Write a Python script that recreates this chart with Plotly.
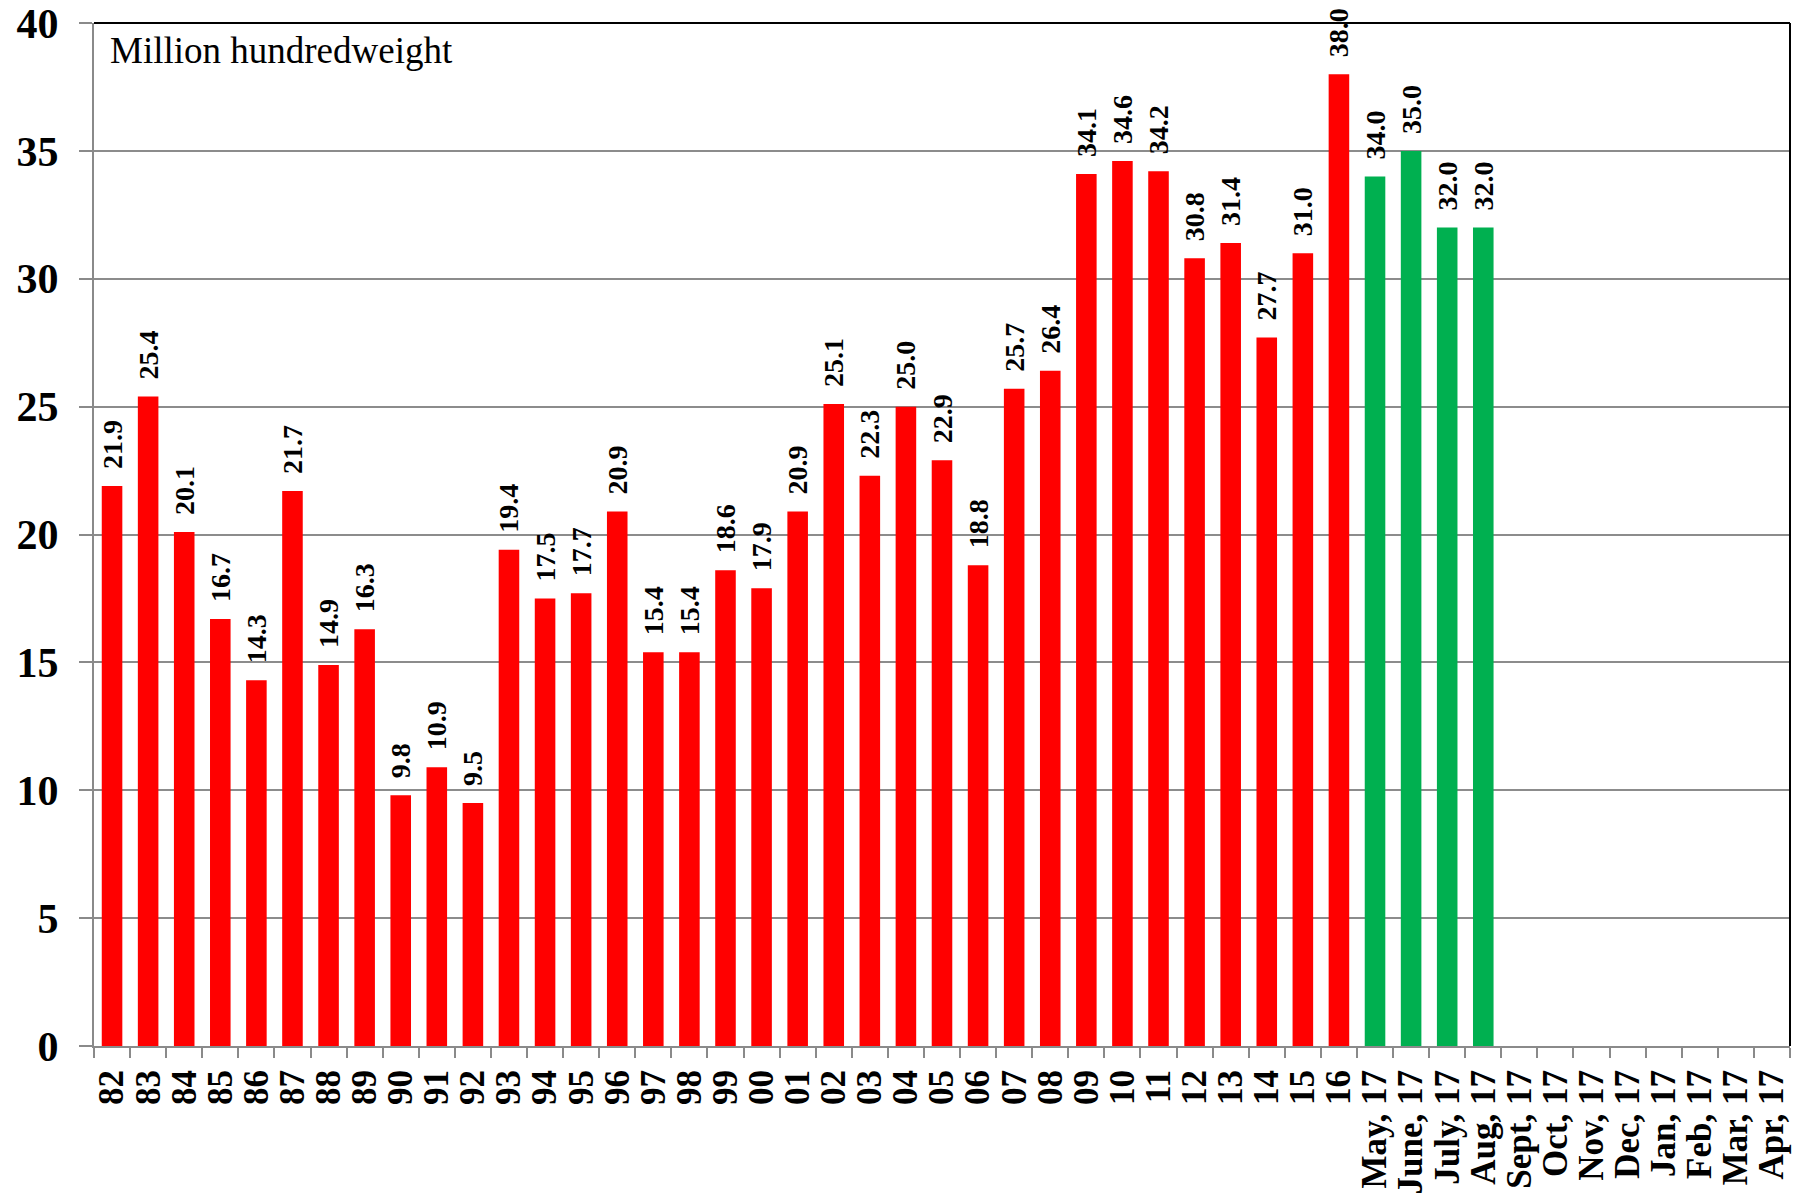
import plotly.graph_objects as go

years = ["82","83","84","85","86","87","88","89","90","91","92","93","94","95","96",
         "97","98","99","00","01","02","03","04","05","06","07","08","09","10","11",
         "12","13","14","15","16"]
year_values = [21.9,25.4,20.1,16.7,14.3,21.7,14.9,16.3,9.8,10.9,9.5,19.4,17.5,17.7,20.9,
               15.4,15.4,18.6,17.9,20.9,25.1,22.3,25.0,22.9,18.8,25.7,26.4,34.1,34.6,34.2,
               30.8,31.4,27.7,31.0,38.0]
months = ["May, 17","June, 17","July, 17","Aug, 17","Sept, 17","Oct, 17","Nov, 17",
          "Dec, 17","Jan, 17","Feb, 17","Mar, 17","Apr, 17"]
month_values = [34.0,35.0,32.0,32.0,None,None,None,None,None,None,None,None]

RED = "#FF0000"
GREEN = "#00B050"
SERIF = "Liberation Serif, Times New Roman, serif"

categories = years + months
values = year_values + month_values
colors = [RED] * len(years) + [GREEN] * len(months)

fig = go.Figure()
fig.add_trace(go.Bar(
    x=categories, y=values,
    marker=dict(color=colors, line=dict(width=0)),
    texttemplate="\u00a0\u00a0%{y:.1f}",
    textposition="outside",
    textangle=-90,
    constraintext="none",
    cliponaxis=False,
    textfont=dict(family=SERIF, size=28, color="black", weight="bold"),
    hoverinfo="x+y",
))

fig.update_layout(
    width=1800, height=1199,
    margin=dict(l=94, r=10, t=23, b=153),
    paper_bgcolor="white", plot_bgcolor="white",
    bargap=0.43,
    showlegend=False,
    xaxis=dict(
        type="category", tickangle=-90, dtick=1, automargin=False,
        tickmode="array", tickvals=categories, ticktext=categories,
        tickfont=dict(family=SERIF, size=35, color="black", weight="bold"),
        showline=True, linecolor="#8a8a8a", linewidth=2,
        ticks="outside", ticklen=10, tickcolor="#8a8a8a", tickwidth=2,
        tickson="boundaries", ticklabelstandoff=8, ticklabeloverflow="allow",
        showgrid=False,
    ),
    yaxis=dict(
        range=[0, 40], dtick=5, tick0=0, automargin=False,
        tickfont=dict(family=SERIF, size=42, color="black", weight="bold"),
        showline=True, linecolor="#8a8a8a", linewidth=2,
        ticks="outside", ticklen=13, tickcolor="#8a8a8a", tickwidth=2,
        ticklabelstandoff=12, ticklabeloverflow="allow",
        showgrid=True, gridcolor="#8c8c8c", gridwidth=1.5,
        zeroline=False,
    ),
    annotations=[dict(
        text="Million hundredweight", xref="paper", yref="paper",
        x=0.008, y=0.995, xanchor="left", yanchor="top", showarrow=False,
        font=dict(family=SERIF, size=37, color="black"),
    )],
    shapes=[
        dict(type="line", xref="paper", yref="paper", x0=0, x1=1, y0=1, y1=1,
             line=dict(color="black", width=2)),
        dict(type="line", xref="paper", yref="paper", x0=1, x1=1, y0=0, y1=1,
             line=dict(color="black", width=2)),
    ],
)

fig.write_html("out.html",
               config={"displayModeBar": False},
               post_script="document.body.style.margin='0';document.body.style.overflow='hidden';")
